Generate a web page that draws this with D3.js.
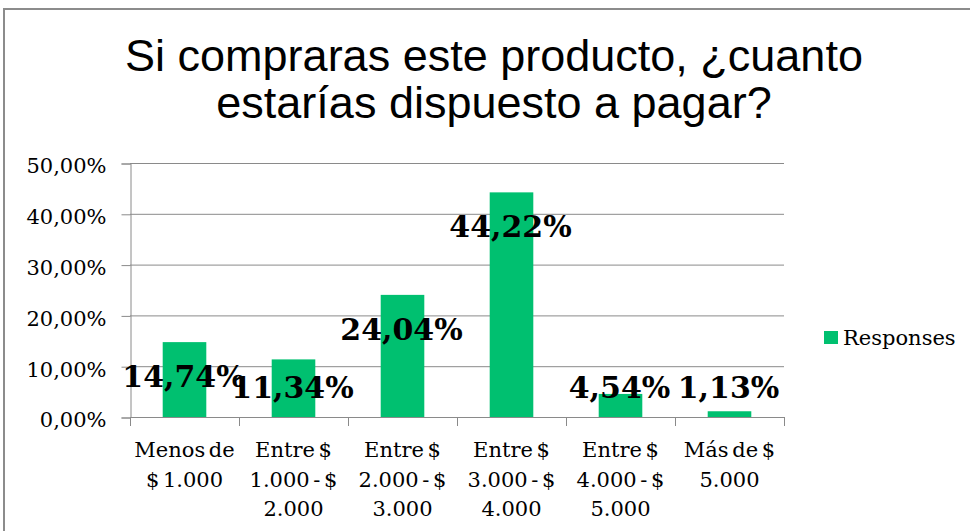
<!DOCTYPE html>
<html>
<head>
<meta charset="utf-8">
<script src="https://cdn.jsdelivr.net/npm/d3@7"></script>
<style>
  body { margin: 0; background: #fff; }
  svg { display: block; }
</style>
</head>
<body>
<div id="chart"></div>
<script>
// Data
var categories = [
  ["Menos de", "$ 1.000"],
  ["Entre $", "1.000 - $", "2.000"],
  ["Entre $", "2.000 - $", "3.000"],
  ["Entre $", "3.000 - $", "4.000"],
  ["Entre $", "4.000 - $", "5.000"],
  ["Más de $", "5.000"]
];
var responses = [14.74, 11.34, 24.04, 44.22, 4.54, 1.13];
var yTicks = [0, 10, 20, 30, 40, 50];
var titleLines = ["Si compraras este producto, ¿cuanto", "estarías dispuesto a pagar?"];
var seriesName = "Responses";

var W = 970, H = 531;
var green = "#00c070", gridGray = "#8a8a8a";
var serif = "'DejaVu Serif', serif";

var svg = d3.select("#chart").append("svg")
    .attr("width", W)
    .attr("height", H);

// chart frame
svg.append("path")
    .attr("d", "M4," + H + " L4,9 L" + W + ",9")
    .attr("fill", "none")
    .attr("stroke", "#8c8c8c")
    .attr("stroke-width", 2);

// title
svg.append("g").selectAll("text")
  .data(titleLines)
  .enter().append("text")
    .attr("x", 494)
    .attr("y", function(d, i) { return 71 + i * 47; })
    .attr("text-anchor", "middle")
    .style("font-family", "'Liberation Sans', Arial, sans-serif")
    .style("font-size", "45px")
    .style("fill", "#000")
    .text(function(d) { return d; });

// scales
var x = d3.scaleBand()
    .domain(d3.range(categories.length))
    .range([130, 784])
    .paddingInner(0.6)
    .paddingOuter(0.3);
var xEdge = d3.scaleLinear().domain([0, categories.length]).range([130, 784]);
var y = d3.scaleLinear().domain([0, 50]).range([417, 163]);

// gridlines
svg.append("g").selectAll("line")
  .data(yTicks.slice(1))
  .enter().append("line")
    .attr("x1", 130).attr("x2", 784)
    .attr("y1", function(d) { return y(d) + 0.5; })
    .attr("y2", function(d) { return y(d) + 0.5; })
    .attr("stroke", gridGray)
    .attr("stroke-width", 1);

// y axis
var yAxis = d3.axisLeft(y)
    .tickValues(yTicks)
    .tickSize(9)
    .tickPadding(15)
    .tickFormat(function(d) { return d3.format(".2f")(d).replace(".", ",") + "%"; });
var yG = svg.append("g")
    .attr("transform", "translate(130.5,0.5)")
    .call(yAxis);
yG.selectAll("path, line").attr("stroke", gridGray);
yG.selectAll("text")
    .attr("dy", "0.45em")
    .style("font-family", serif)
    .style("font-size", "21px")
    .style("fill", "#000");

// x axis line + ticks
var xG = svg.append("g");
xG.append("line")
    .attr("x1", 130).attr("x2", 784)
    .attr("y1", y(0) + 0.5).attr("y2", y(0) + 0.5)
    .attr("stroke", gridGray);
xG.selectAll(".xtick")
  .data(d3.range(categories.length + 1))
  .enter().append("line")
    .attr("class", "xtick")
    .attr("x1", function(d) { return Math.round(xEdge(d)) + 0.5; })
    .attr("x2", function(d) { return Math.round(xEdge(d)) + 0.5; })
    .attr("y1", y(0)).attr("y2", y(0) + 9)
    .attr("stroke", gridGray);

// bars
svg.append("g").selectAll("rect")
  .data(responses)
  .enter().append("rect")
    .attr("x", function(d, i) { return x(i); })
    .attr("width", x.bandwidth())
    .attr("y", function(d) { return y(d); })
    .attr("height", function(d) { return y(0) - y(d); })
    .attr("fill", green);

// category labels
var catG = svg.append("g").selectAll("text")
  .data(categories)
  .enter().append("text")
    .attr("text-anchor", "middle")
    .style("font-family", serif)
    .style("font-size", "21px")
    .style("word-spacing", "-3px")
    .style("fill", "#000");
catG.selectAll("tspan")
  .data(function(d, i) { return d.map(function(t) { return { t: t, i: i }; }); })
  .enter().append("tspan")
    .attr("x", function(d) { return x(d.i) + x.bandwidth() / 2; })
    .attr("y", function(d, j) { return 457 + j * 29.5; })
    .text(function(d) { return d.t; });

// data labels
svg.append("g").selectAll("text")
  .data(responses)
  .enter().append("text")
    .attr("x", function(d, i) { return x(i) + x.bandwidth() / 2 - 1; })
    .attr("y", function(d) { return Math.min(y(d) + 45, y(0) - 19); })
    .attr("text-anchor", "middle")
    .style("font-family", serif)
    .style("font-weight", "bold")
    .style("font-size", "30px")
    .style("fill", "#000")
    .text(function(d) { return d3.format(".2f")(d).replace(".", ",") + "%"; });

// legend
var legend = svg.append("g").attr("transform", "translate(824,331)");
legend.append("rect")
    .attr("width", 14).attr("height", 13)
    .attr("fill", green);
legend.append("text")
    .attr("x", 19).attr("y", 14)
    .style("font-family", serif)
    .style("font-size", "21px")
    .style("fill", "#000")
    .text(seriesName);
</script>
</body>
</html>
